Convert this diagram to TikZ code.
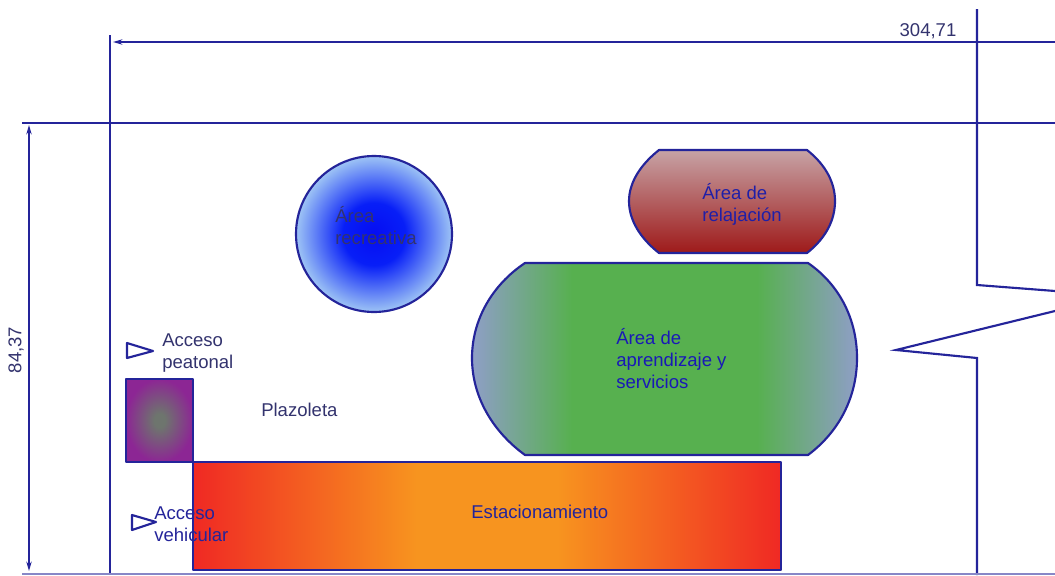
\documentclass[tikz,border=0pt]{standalone}
\usepackage{fontspec}
\setmainfont{Liberation Sans}
\usepackage{tikz}
\usetikzlibrary{arrows.meta}

\definecolor{linea}{HTML}{24249A}
\definecolor{rotulo}{HTML}{33336E}
\pgfdeclareradialshading{recreativa}{\pgfpoint{0bp}{0bp}}{rgb(0bp)=(0.02,0.05,0.95); rgb(10bp)=(0.03,0.12,0.97); rgb(25bp)=(0.62,0.77,0.96); rgb(50bp)=(0.62,0.77,0.96)}
\pgfdeclareradialshading{acceso}{\pgfpoint{0bp}{0bp}}{rgb(0bp)=(0.43,0.46,0.43); rgb(4bp)=(0.43,0.46,0.43); rgb(25bp)=(0.55,0.15,0.58); rgb(50bp)=(0.55,0.15,0.58)}
\pgfdeclarehorizontalshading{aprendizaje}{100bp}{rgb(0bp)=(0.56,0.62,0.78); rgb(25bp)=(0.56,0.62,0.78); rgb(38bp)=(0.34,0.69,0.31); rgb(62bp)=(0.34,0.69,0.31); rgb(75bp)=(0.56,0.62,0.78); rgb(100bp)=(0.56,0.62,0.78)}
\pgfdeclarehorizontalshading{estacionamiento}{100bp}{rgb(0bp)=(0.94,0.16,0.14); rgb(25bp)=(0.94,0.16,0.14); rgb(44bp)=(0.97,0.58,0.12); rgb(56bp)=(0.97,0.58,0.12); rgb(75bp)=(0.94,0.16,0.14); rgb(100bp)=(0.94,0.16,0.14)}
\pgfdeclareverticalshading{relajacion}{100bp}{rgb(0bp)=(0.62,0.10,0.10); rgb(25bp)=(0.62,0.10,0.10); rgb(75bp)=(0.78,0.64,0.65); rgb(100bp)=(0.78,0.64,0.65)}

\begin{document}
\begin{tikzpicture}[x=0.75pt,y=-0.75pt]
    \tikzstyle{muro} = [
      draw=linea,
      line width=1.6pt,
    ]
    \tikzstyle{cota} = [
      muro,
      {Stealth[length=7pt,width=4pt]}-{Stealth[length=7pt,width=4pt]},
    ]
    \tikzstyle{zona} = [
      draw=linea,
      line width=1.6pt,
      line join=round,
    ]
    \tikzstyle{rotulo} = [
      anchor=west,
      align=left,
      inner sep=0pt,
      text=rotulo,
      font=\fontsize{13.9}{16.5}\selectfont,
    ]

    \useasboundingbox (0,0) rectangle (1055,575);
    \fill[white] (0,0) rectangle (1055,575);

    % limits of the lot
    \coordinate (izqTop) at (110,35);
    \coordinate (izqBot) at (110,575);
    \coordinate (supIzq) at (22,123);
    \coordinate (supDer) at (1055,123);
    \coordinate (cotaAIzq) at (113,42);
    \coordinate (cotaADer) at (1055,42);
    \coordinate (cotaBTop) at (29,125);
    \coordinate (cotaBBot) at (29,571);
    \coordinate (murTop) at (977,9);
    \coordinate (murA) at (977,285);
    \coordinate (murB) at (1055,291);
    \coordinate (murC) at (1055,311);
    \coordinate (punta) at (896,350);
    \coordinate (murD) at (977,358);
    \coordinate (murBot) at (977,575);
    \coordinate (infIzq) at (22,574);
    \coordinate (infDer) at (1055,574);

    \draw[muro] (izqTop)--(izqBot);
    \draw[muro] (supIzq)--(supDer);
    \draw[muro] (murTop)--(murA)--(murB);
    \draw[muro] (murC)--(punta)--(murD)--(murBot);
    \draw[draw=linea!55,line width=0.8pt] (infIzq)--(infDer);
    \draw[muro,{Stealth[length=7pt,width=4pt]}-] (cotaAIzq)--(cotaADer);
    \draw[cota] (cotaBTop)--(cotaBBot);

    % zones
    \shadedraw[zona,shading=recreativa] (374,234) circle (78);
    \shadedraw[zona,shading=relajacion] (659,150)--(807,150)
      .. controls (826,165) and (835,183) .. (835,201)
      .. controls (835,220) and (826,238) .. (807,253)
      --(659,253)
      .. controls (640,238) and (629,220) .. (629,201)
      .. controls (629,183) and (640,165) .. (659,150)--cycle;
    \shadedraw[zona,shading=aprendizaje] (525,263)--(808,263)
      .. controls (840,285) and (857,320) .. (857,358)
      .. controls (857,396) and (840,431) .. (808,455)
      --(525,455)
      .. controls (492,431) and (472,396) .. (472,358)
      .. controls (472,320) and (492,285) .. (525,263)--cycle;
    \shadedraw[zona,shading=acceso] (126,379) rectangle (193,462);
    \shadedraw[zona,shading=estacionamiento] (193,462) rectangle (781,570);

    % access marks
    \draw[zona] (127,343)--(153,351)--(127,358)--cycle;
    \draw[zona] (132,515)--(156,522)--(132,530)--cycle;

    % labels
    \node[rotulo,rotate=90,anchor=center] (anchoLbl) at (16,350) {84,37};
    \node[rotulo,anchor=center] (largoLbl) at (928,31) {304,71};
    \node[rotulo] (recreativaLbl) at (335,226) {Área\\recreativa};
    \node[rotulo,text=rotulo!60!blue,anchor=center] (relajacionLbl) at (742,204) {Área de\\relajación};
    \node[rotulo,text=rotulo!50!blue] (aprendizajeLbl) at (616,359) {Área de\\aprendizaje y\\servicios};
    \node[rotulo] (peatonalLbl) at (162,353) {Acceso\\peatonal};
    \node[rotulo] (plazoletaLbl) at (261,410) {Plazoleta};
    \node[rotulo,text=rotulo!70!blue] (vehicularLbl) at (154,524) {Acceso\\vehicular};
    \node[rotulo,text=rotulo!70!blue] (estacionamientoLbl) at (471,512) {Estacionamiento};
\end{tikzpicture}
\end{document}
